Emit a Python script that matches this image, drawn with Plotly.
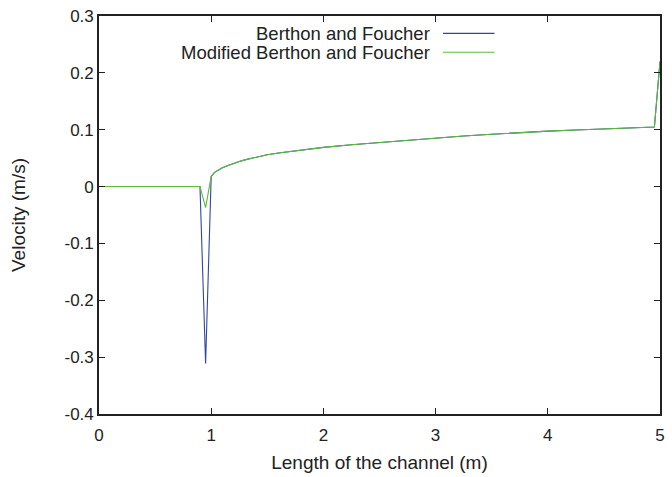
import plotly.graph_objects as go

x_vals = [0, 0.9, 0.95, 1.0, 1.03, 1.06, 1.1, 1.15, 1.2, 1.25, 1.3, 1.4, 1.5, 1.6, 1.75,
          2.0, 2.25, 2.5, 2.75, 3.0, 3.25, 3.5, 3.75, 4.0, 4.25, 4.5, 4.75, 4.95, 5.0]
bf_vals = [0, 0, -0.311, 0.018, 0.025, 0.029, 0.033, 0.037, 0.041, 0.044, 0.047, 0.052,
           0.056, 0.059, 0.063, 0.069, 0.0735, 0.0775, 0.081, 0.085, 0.089, 0.092, 0.095,
           0.0975, 0.0995, 0.1015, 0.1033, 0.1047, 0.22]
mbf_vals = [0, 0, -0.037, 0.018, 0.025, 0.029, 0.033, 0.037, 0.041, 0.044, 0.047, 0.052,
            0.056, 0.059, 0.063, 0.069, 0.0735, 0.0775, 0.081, 0.085, 0.089, 0.092, 0.095,
            0.0975, 0.0995, 0.1015, 0.1033, 0.1047, 0.22]
series_names = ["Berthon and Foucher", "Modified Berthon and Foucher"]
colors = ["#2f47a3", "#5cbb3c"]
x_ticks = [0, 1, 2, 3, 4, 5]
y_ticks = [0.3, 0.2, 0.1, 0, -0.1, -0.2, -0.3, -0.4]
y_tick_text = ["0.3", "0.2", "0.1", "0", "-0.1", "-0.2", "-0.3", "-0.4"]

W, H = 672, 477
ml, mr, mt, mb = 99, 7, 15, 61
font = "Liberation Sans, Arial, sans-serif"
txt_col = "#222"

fig = go.Figure()
for name, ys, c in zip(series_names, [bf_vals, mbf_vals], colors):
    fig.add_trace(go.Scatter(x=x_vals, y=ys, mode="lines", name=name,
                             line=dict(color=c, width=1.1), showlegend=False))

# custom gnuplot-style legend: right-aligned text, sample line on the right
leg_rows_y = [32.5, 51.5]
text_right_px = 434
line_x0_px, line_x1_px = 446, 498
pw = W - ml - mr
ph = H - mt - mb
for name, c, yp in zip(series_names, colors, leg_rows_y):
    yf = 1 - (yp - mt) / ph
    fig.add_annotation(x=(text_right_px - ml) / pw, y=yf, xref="paper", yref="paper",
                       text=name, showarrow=False, xanchor="right", yanchor="middle",
                       borderpad=0,
                       font=dict(family=font, size=18.5, color=txt_col))
    fig.add_shape(type="line", xref="paper", yref="paper",
                  x0=(line_x0_px - ml) / pw, x1=(line_x1_px - ml) / pw, y0=yf, y1=yf,
                  line=dict(color=c, width=1.2))

axis_common = dict(showgrid=False, zeroline=False, showline=True, linecolor="#222",
                   linewidth=1.6, ticks="inside", ticklen=6, tickwidth=1.2,
                   tickcolor="#222", mirror="allticks",
                   tickfont=dict(family=font, size=17, color=txt_col))
fig.update_xaxes(range=[0, 5], tickvals=x_ticks, ticktext=[str(t) for t in x_ticks],
                 ticklabelstandoff=5,
                 title=dict(text="Length of the channel (m)", standoff=11,
                            font=dict(family=font, size=19, color=txt_col)),
                 **axis_common)
fig.update_yaxes(range=[-0.4, 0.3], tickvals=y_ticks, ticktext=y_tick_text,
                 title=dict(text="Velocity (m/s)", standoff=34,
                            font=dict(family=font, size=19, color=txt_col)),
                 **axis_common)
fig.update_layout(width=W, height=H, margin=dict(l=ml, r=mr, t=mt, b=mb),
                  plot_bgcolor="white", paper_bgcolor="white", showlegend=False)
fig.write_html("out.html")
